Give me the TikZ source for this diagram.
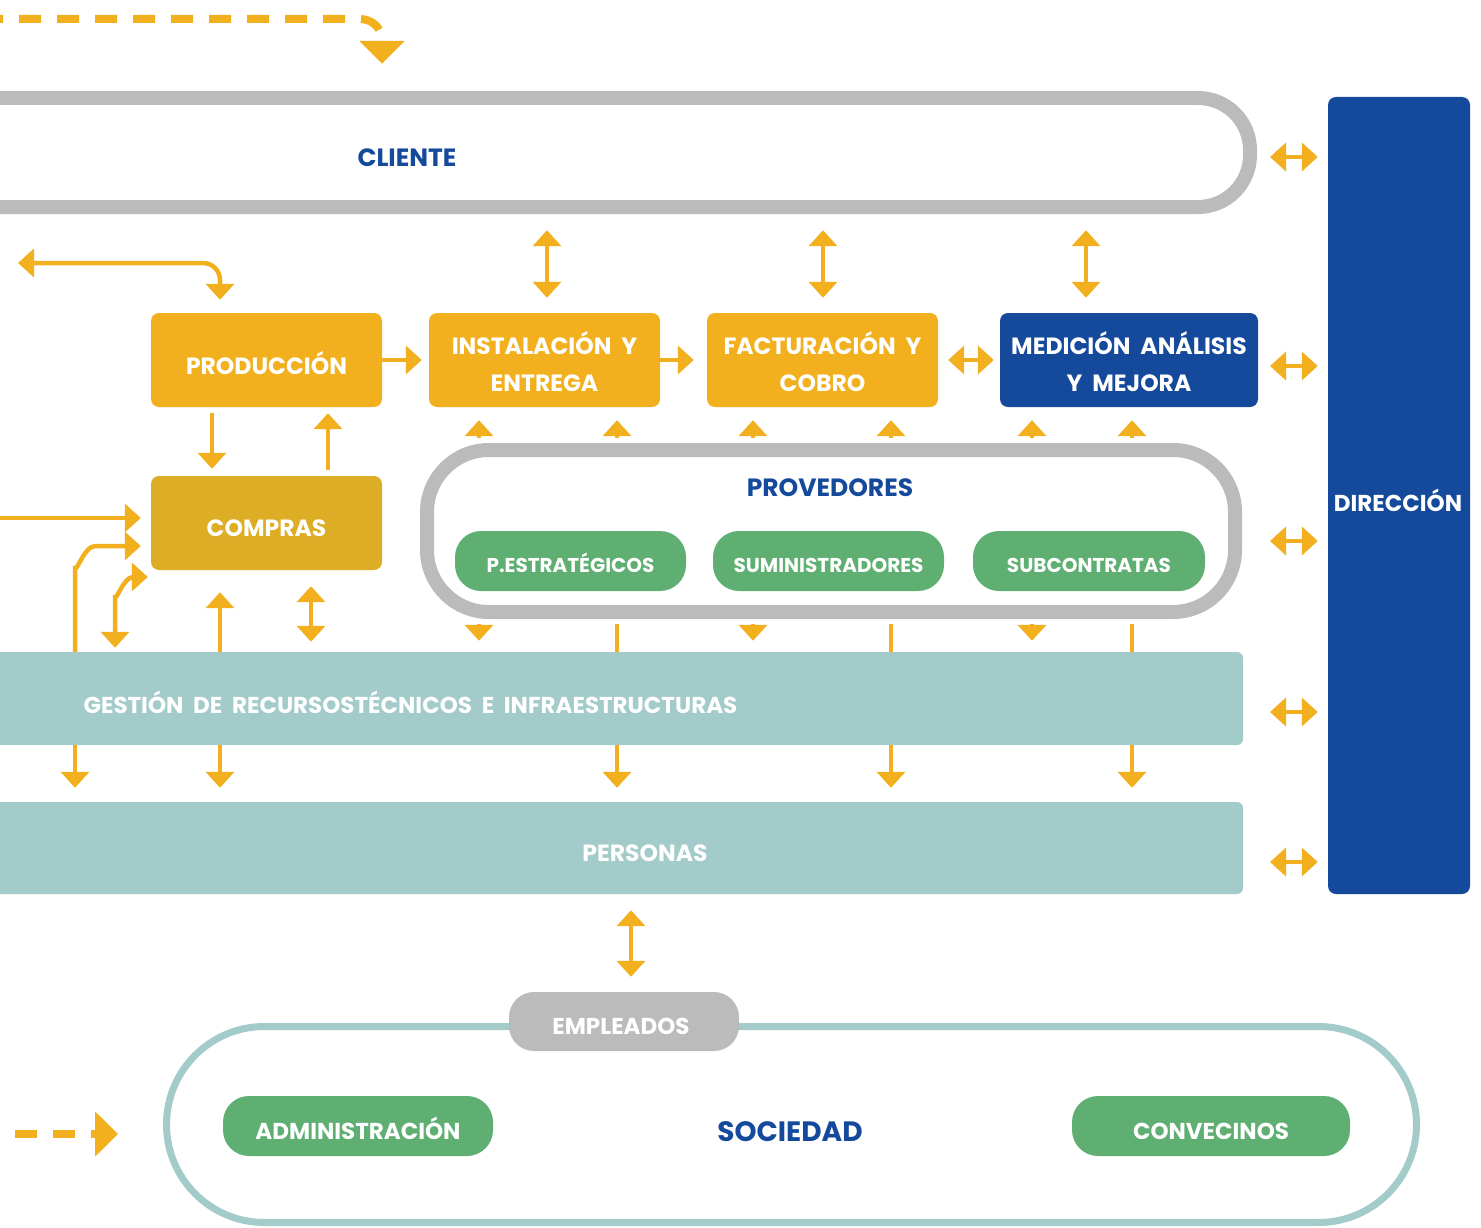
\documentclass[tikz,border=0pt]{standalone}
\usepackage{fontspec}
\setmainfont{Poppins}
\usetikzlibrary{arrows.meta}

\definecolor{orng}{HTML}{F2B01E}
\definecolor{comp}{HTML}{DDAD26}
\definecolor{blu}{HTML}{15499B}
\definecolor{gry}{HTML}{BBBBBB}
\definecolor{teal}{HTML}{A3CBC9}
\definecolor{grn}{HTML}{5FAF72}

\newcommand{\twoline}[2]{\raisebox{-6pt}[\height][\depth]{\begin{tabular}{@{}c@{}}#1\\#2\end{tabular}}}
\newcommand{\lowtxt}[2]{\raisebox{-#1}[\height][\depth]{#2}}

\tikzset{
  box/.style={fill=orng, rounded corners=8pt, minimum width=231pt, minimum height=94pt, inner sep=0pt,
    text=white, align=center, font=\bfseries\fontsize{23.5}{37}\selectfont},
  pill/.style={fill=grn, rounded corners=26pt, minimum height=60pt, inner sep=0pt, text height=22pt, text depth=0pt,
    text=white, font=\bfseries\fontsize{20}{22}\selectfont},
  band/.style={fill=teal, rounded corners=6pt, minimum width=1253pt, inner sep=0pt},
  headtxt/.style={text=blu, font=\bfseries\fontsize{25}{27}\selectfont},
  whitetxt/.style={text=white, font=\bfseries\fontsize{23}{25}\selectfont},
  arr/.style={draw=orng, line width=4.5pt, -{Triangle[width=28pt,length=16pt]}},
  dbl/.style={draw=orng, line width=4.5pt, {Triangle[width=28pt,length=16pt]}-{Triangle[width=28pt,length=16pt]}},
  feed/.style={draw=orng, line width=4.5pt},
  dasharr/.style={draw=orng, line width=8pt, dash pattern=on 22pt off 16pt, -{Triangle[width=44pt,length=23pt]}},
}

\begin{document}
\begin{tikzpicture}[x=1pt, y=-1pt]
\useasboundingbox (0,0) rectangle (1481,1228);

% cliente
\draw[gry, line width=14pt, rounded corners=52pt] (-10,98) -- (1250,98) -- (1250,207) -- (-10,207);
\node[minimum width=1257pt, minimum height=123pt, inner sep=0pt] (cli) at (628.5,152.5) {};
\node[headtxt] (clitxt) at (407,158) {CLIENTE};

% procesos
\node[box] (prod) at (266.5,360) {\lowtxt{3pt}{PRODUCCIÓN}};
\node[box] (inst) at (544.5,360) {\twoline{INSTALACIÓN\ \ Y}{ENTREGA}};
\node[box] (fact) at (822.5,360) {\twoline{FACTURACIÓN\ \ Y}{COBRO}};
\node[box, fill=blu, minimum width=258pt] (med) at (1129,360) {\twoline{MEDICIÓN\ \ ANÁLISIS}{Y\ \ MEJORA}};
\node[box, fill=comp] (compras) at (266.5,523) {\lowtxt{5pt}{COMPRAS}};
\node[fill=blu, rounded corners=8pt, minimum width=142pt, minimum height=797pt, inner sep=0pt] (dir) at (1399,495.5) {};
\node[whitetxt] (dirtxt) at (1398,500) {DIRECCIÓN};

% provedores
\node[draw=gry, line width=14pt, rounded corners=62pt, minimum width=808pt, minimum height=162pt] (prov) at (831,531) {};
\node[headtxt] (provtxt) at (830,488) {PROVEDORES};
\node[pill, minimum width=231pt] (pest) at (570.5,561) {P.ESTRATÉGICOS};
\node[pill, minimum width=231pt] (sum) at (828.5,561) {SUMINISTRADORES};
\node[pill, minimum width=232pt] (sub) at (1089,561) {SUBCONTRATAS};

% recursos y personas
\node[band, minimum height=93pt] (gest) at (616.5,698.5) {};
\node[whitetxt, anchor=west] (gesttxt) at (80,702) {GESTIÓN\ \ DE\ \ RECURSOSTÉCNICOS\ \ E\ \ INFRAESTRUCTURAS};
\node[band, minimum height=92pt] (pers) at (616.5,848) {};
\node[whitetxt, font=\bfseries\fontsize{23.5}{25}\selectfont] (perstxt) at (645,853) {PERSONAS};

% sociedad
\node[draw=teal, line width=7pt, rounded corners=98pt, minimum width=1250pt, minimum height=196pt] (soc) at (791.5,1124.5) {};
\node[fill=gry, rounded corners=25pt, minimum width=230pt, minimum height=59pt, inner sep=0pt] (empl) at (624,1021.5) {};
\node[whitetxt] (empltxt) at (621,1026) {EMPLEADOS};
\node[headtxt, font=\bfseries\fontsize{28}{30}\selectfont] (soctxt) at (790,1132) {SOCIEDAD};
\node[pill, minimum width=270pt, text height=26pt, font=\bfseries\fontsize{23}{25}\selectfont] (adm) at (358,1126) {ADMINISTRACIÓN};
\node[pill, minimum width=278pt, text height=26pt, font=\bfseries\fontsize{23}{25}\selectfont] (conv) at (1211,1126) {CONVECINOS};

% entradas punteadas
\coordinate (topin) at (0,19);
\coordinate (botin) at (15,1134);
\draw[dasharr, dash phase=19pt] (topin) -- (360,19) to[out=0,in=90] (382,40) -- (382,0 |- cli.north) [shorten >=27pt];
\draw[dasharr, shorten >=45pt] (botin) -- (soc.west |- 0,1134);

% flujo principal
\coordinate (tlin) at (18,263);
\draw[dbl, shorten >=13pt] (tlin) -- (203,263) to[out=0,in=90] (220,280) -- (220,0 |- prod.north);
\draw[arr, shorten >=7pt] (prod.east) -- (inst.west);
\draw[arr, shorten >=13pt] (inst.east) -- (fact.west);
\draw[dbl, shorten <=10pt, shorten >=6pt] (fact.east) -- (med.west);
\foreach \n/\x in {inst/547, fact/823, med/1086}
  \draw[dbl, shorten <=16pt, shorten >=15pt] (\x,0 |- cli.south) -- (\x,0 |- \n.north);

% produccion y compras
\draw[arr, shorten <=6pt, shorten >=7pt] (212,0 |- prod.south) -- (212,0 |- compras.north);
\draw[arr, shorten <=6pt, shorten >=6pt] (328,0 |- compras.north) -- (328,0 |- prod.south);
\coordinate (cin) at (0,518);
\draw[arr, shorten >=10pt] (cin) -- (compras.west |- cin);
\draw[arr, shorten >=10pt] (75,0 |- gest.north) -- (75,566) to[out=-90,in=180] (95,546) -- (compras.west |- 0,546);
\draw[dbl, shorten <=4pt, shorten >=3pt] (115,0 |- gest.north) -- (115,595) to[out=-90,in=180] (133,577) -- (compras.west |- 0,577);
\draw[arr, shorten >=22pt] (220,0 |- gest.north) -- (220,0 |- compras.south);
\draw[dbl, shorten <=10pt, shorten >=16pt] (311,0 |- gest.north) -- (311,0 |- compras.south);

% provedores
\foreach \n/\x in {inst/479, inst/617, fact/753, fact/891, med/1032, med/1132}
  \draw[arr, shorten <=5pt, shorten >=13pt] (\x,0 |- prov.north) -- (\x,0 |- \n.south);
\foreach \x in {479, 753, 1032}
  \draw[arr, shorten <=5pt, shorten >=11pt] (\x,0 |- prov.south) -- (\x,0 |- gest.north);
\foreach \x in {617, 891, 1132} {
  \draw[feed, shorten <=5pt] (\x,0 |- prov.south) -- (\x,0 |- gest.north);
  \draw[arr, shorten >=14pt] (\x,0 |- gest.south) -- (\x,0 |- pers.north);
}
\foreach \x in {75, 220}
  \draw[arr, shorten >=14pt] (\x,0 |- gest.south) -- (\x,0 |- pers.north);
\draw[dbl, shorten <=16pt, shorten >=15pt] (631,0 |- pers.south) -- (631,0 |- empl.north);

% direccion
\draw[dbl, shorten <=13pt, shorten >=10pt] (1257,157) -- (dir.west |- 0,157);
\foreach \y in {366, 541, 712, 862}
  \draw[dbl, shorten >=10pt] (1270,\y) -- (dir.west |- 0,\y);
\end{tikzpicture}
\end{document}
